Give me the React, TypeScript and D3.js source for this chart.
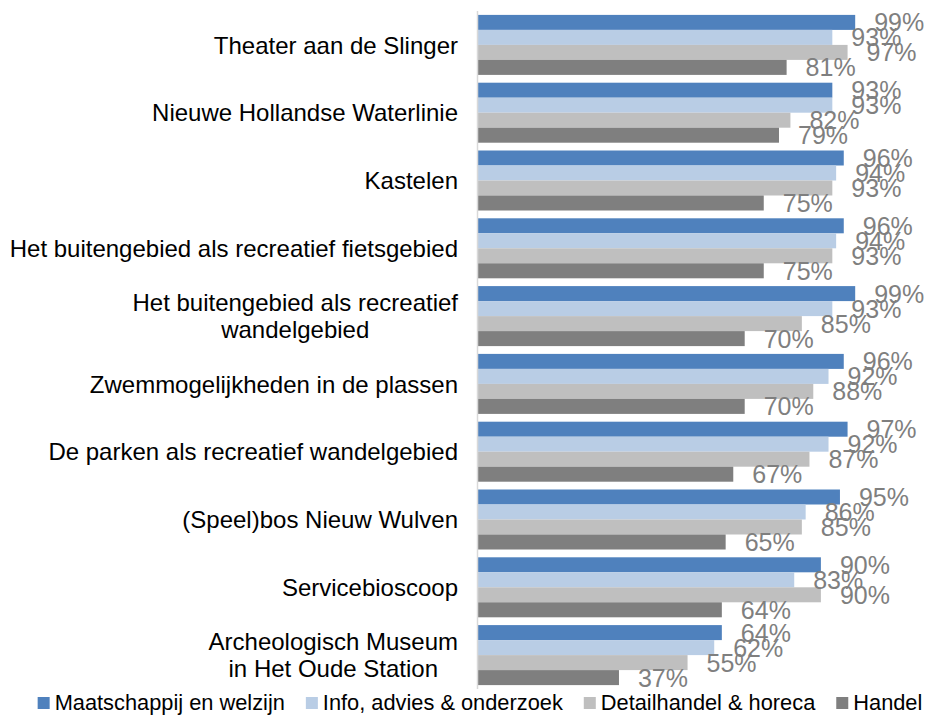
import React, { useEffect, useRef } from "react";
import * as d3 from "d3";

const categories: string[][] = [
  ["Theater aan de Slinger"],
  ["Nieuwe Hollandse Waterlinie"],
  ["Kastelen"],
  ["Het buitengebied als recreatief fietsgebied"],
  ["Het buitengebied als recreatief", "wandelgebied"],
  ["Zwemmogelijkheden in de plassen"],
  ["De parken als recreatief wandelgebied"],
  ["(Speel)bos Nieuw Wulven"],
  ["Servicebioscoop"],
  ["Archeologisch Museum", "in Het Oude Station"],
];

const seriesNames = [
  "Maatschappij en welzijn",
  "Info, advies & onderzoek",
  "Detailhandel & horeca",
  "Handel",
];

const maatschappij = [99, 93, 96, 96, 99, 96, 97, 95, 90, 64];
const info = [93, 93, 94, 94, 93, 92, 92, 86, 83, 62];
const detailhandel = [97, 82, 93, 93, 85, 88, 87, 85, 90, 55];
const handel = [81, 79, 75, 75, 70, 70, 67, 65, 64, 37];

const seriesValues = [maatschappij, info, detailhandel, handel];
const colors = ["#4f81bd", "#b9cde5", "#bfbfbf", "#7f7f7f"];

const FONT = "'Liberation Sans', Arial, Helvetica, sans-serif";

export default function App() {
  const ref = useRef<SVGSVGElement>(null);

  useEffect(() => {
    const svg = d3.select(ref.current);
    svg.selectAll("*").remove();

    const keys = categories.map((_, i) => String(i));
    const y = d3
      .scaleBand<string>()
      .domain(keys)
      .range([11, 689])
      .paddingInner(0.115)
      .paddingOuter(0.0575);
    const ySub = d3
      .scaleBand<string>()
      .domain(seriesNames)
      .range([0, y.bandwidth()])
      .padding(0);
    const x = d3.scaleLinear().domain([0, 100]).range([478, 859]);

    // bars
    const g = svg.append("g");
    categories.forEach((_, ci) => {
      seriesNames.forEach((s, si) => {
        const v = seriesValues[si][ci];
        g.append("rect")
          .attr("x", x(0))
          .attr("y", (y(String(ci)) as number) + (ySub(s) as number))
          .attr("width", x(v) - x(0))
          .attr("height", ySub.bandwidth())
          .attr("fill", colors[si]);
      });
    });

    // axis line
    svg
      .append("line")
      .attr("x1", 477.5)
      .attr("x2", 477.5)
      .attr("y1", 11)
      .attr("y2", 689)
      .attr("stroke", "#d9d9d9")
      .attr("stroke-width", 1.5);

    // data labels
    const lg = svg.append("g").attr("font-family", FONT).attr("font-size", 25).attr("fill", "#7f7f7f");
    categories.forEach((_, ci) => {
      seriesNames.forEach((s, si) => {
        const v = seriesValues[si][ci];
        const cy = (y(String(ci)) as number) + (ySub(s) as number) + ySub.bandwidth() / 2;
        lg.append("text")
          .attr("x", x(v) + 19)
          .attr("y", cy)
          .attr("dy", "0.36em")
          .text(`${v}%`);
      });
    });

    // category labels
    const cg = svg.append("g").attr("font-family", FONT).attr("font-size", 24).attr("fill", "#000");
    const rightEdge = 458;
    categories.forEach((lines, ci) => {
      const cy = (y(String(ci)) as number) + y.bandwidth() / 2;
      const lh = 27;
      const texts = lines.map((line, li) =>
        cg
          .append("text")
          .attr("y", cy + (li - (lines.length - 1) / 2) * lh)
          .attr("dy", "0.36em")
          .attr("text-anchor", "middle")
          .text(line)
      );
      const widths = texts.map((t) => (t.node() as SVGTextElement).getComputedTextLength());
      const maxW = Math.max(...widths);
      texts.forEach((t) => t.attr("x", rightEdge - maxW / 2));
    });

    // legend
    const leg = svg.append("g").attr("font-family", FONT).attr("font-size", 21.8).attr("fill", "#000");
    const sq = 12;
    const gapSqText = 5;
    const gapItems = 21;
    const items = seriesNames.map((name, i) => {
      const rect = leg.append("rect").attr("width", sq).attr("height", sq).attr("fill", colors[i]).attr("y", 697);
      const text = leg.append("text").attr("y", 710).text(name);
      const w = (text.node() as SVGTextElement).getComputedTextLength();
      return { rect, text, w };
    });
    const total =
      items.reduce((a, it) => a + sq + gapSqText + it.w, 0) + gapItems * (items.length - 1);
    let cx = 480 - total / 2;
    items.forEach((it) => {
      it.rect.attr("x", cx);
      cx += sq + gapSqText;
      it.text.attr("x", cx);
      cx += it.w + gapItems;
    });
  }, []);

  return (
    <svg
      ref={ref}
      width={928}
      height={715}
      style={{ position: "absolute", left: 0, top: 0, display: "block", background: "#fff" }}
    />
  );
}
